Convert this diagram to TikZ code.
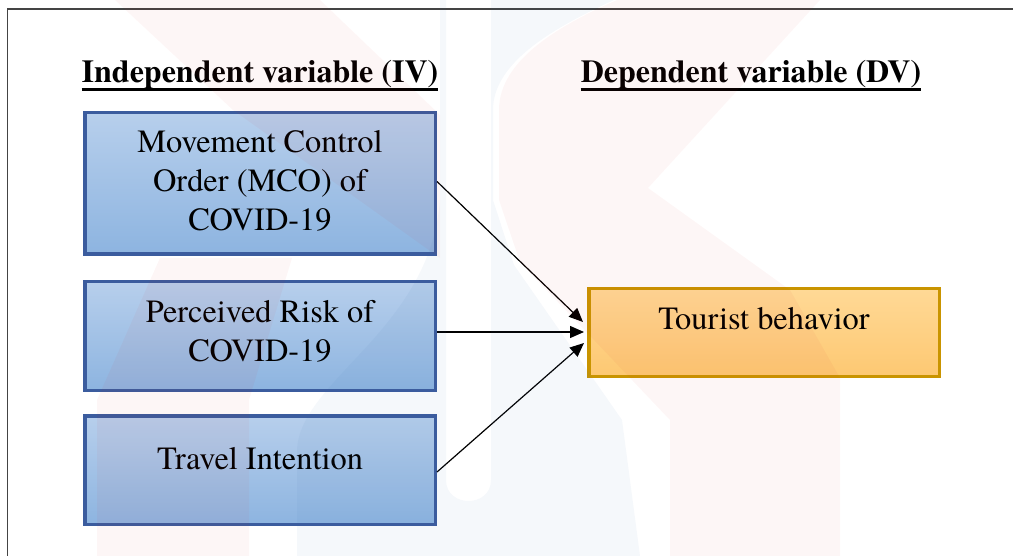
\documentclass[tikz,border=0pt]{standalone}
\usepackage{fontspec}
\IfFontExistsTF{texgyretermes-regular.otf}
  {\setmainfont{texgyretermes}[Extension=.otf,UprightFont=*-regular,BoldFont=*-bold]}
  {\setmainfont{Liberation Serif}}
\usetikzlibrary{arrows.meta}

\definecolor{ivfillA}{HTML}{B7CFEC}
\definecolor{ivfillB}{HTML}{8DB4E0}
\definecolor{ivline}{HTML}{3B5C9E}
\definecolor{dvfillA}{HTML}{FFD996}
\definecolor{dvfillB}{HTML}{FDC872}
\definecolor{dvline}{HTML}{C99400}
\definecolor{frameline}{HTML}{444444}
\definecolor{wmred}{HTML}{DC2828}
\definecolor{wmblue}{HTML}{3C6EAA}

\begin{document}
\begin{tikzpicture}[x=1pt,y=-1pt,
  ivbox/.style={draw=ivline, line width=3.5pt, top color=ivfillA, bottom color=ivfillB,
                minimum width=350.5pt, inner sep=0pt},
  dvbox/.style={draw=dvline, line width=3.5pt, top color=dvfillA, bottom color=dvfillB,
                minimum width=350.5pt, minimum height=87.5pt, inner sep=0pt},
  boxtext/.style={anchor=base, inner sep=0pt, font=\fontsize{32.4}{38.5}\selectfont},
  heading/.style={anchor=base, inner sep=0pt, font=\fontsize{32}{38.5}\selectfont\bfseries},
  uline/.style={line width=3pt},
  link/.style={line width=1.2pt, -{Triangle[length=14pt,width=12pt]}},
  wmr/.style={wmred, fill opacity=0.045},
  wmb/.style={wmblue, fill opacity=0.05}
]
\useasboundingbox (0,0) rectangle (1013,556);
\clip (0,0) rectangle (1013,556);

% page frame
\draw[frameline, line width=1.5pt] (1030,9) -- (7.5,9) -- (7.5,570);

% column headings
\node[heading] (h1) at (260,83) {Independent variable (IV)};
\node[heading] (h2) at (751,83) {Dependent variable (DV)};
\draw[uline] ([yshift=-6.5pt]h1.base west) -- ([yshift=-6.5pt]h1.base east);
\draw[uline] ([yshift=-6.5pt]h2.base west) -- ([yshift=-6.5pt]h2.base east);

% variable boxes
\node[ivbox, minimum height=141.5pt] (b1) at (260,183.5) {};
\node[ivbox, minimum height=108.5pt] (b2) at (260,336) {};
\node[ivbox, minimum height=108.5pt] (b3) at (260,470) {};
\node[dvbox] (dv) at (764,332.5) {};

% box texts
\node[boxtext] (b1a) at (260,153) {Movement Control};
\node[boxtext] (b1b) at (260,192) {Order (MCO) of};
\node[boxtext] (b1c) at (260,231) {COVID-19};
\node[boxtext] (b2a) at (260,323) {Perceived Risk of};
\node[boxtext] (b2b) at (260,362) {COVID-19};
\node[boxtext] (b3a) at (260,469) {Travel Intention};
\node[boxtext] (dva) at (764,330) {Tourist behavior};

% relations
\draw[link] ([yshift=2pt]b1.east) -- ([xshift=-4pt,yshift=10.5pt]dv.west);
\draw[link] ([yshift=4pt]b2.east) -- ([xshift=-3pt,yshift=0.5pt]dv.west);
\draw[link] ([yshift=-2pt]b3.east) -- ([xshift=-3pt,yshift=-10.5pt]dv.west);

% faint background emblem
\fill[wmr] (115,0) -- (320,0) -- (440,115) -- (440,258) -- (233,110) -- cycle;
\fill[wmr] (160,258) -- (292,258) -- (249,400) -- (249,556) -- (97,556) -- (97,400) -- cycle;
\fill[wmb, even odd rule]
  (440,0) -- (614,0) .. controls (560,25) and (493,60) .. (493,110) -- (493,200)
  -- (514,265) -- (622,420) -- (640,556) -- (297,556) -- (297,450)
  .. controls (300,380) and (430,330) .. (440,200) -- cycle
  (446,-5) -- (491,-5) -- (491,480) .. controls (491,508) and (446,508) .. (446,480) -- cycle;
\fill[wmr] (617,0) -- (820,0) -- (648,188) -- (790,290) -- (840,378) -- (840,556)
  -- (670,556) -- (670,420) -- (520,262) -- (499,200) -- (499,110)
  .. controls (499,60) and (560,25) .. (617,0) -- cycle;
\end{tikzpicture}
\end{document}
